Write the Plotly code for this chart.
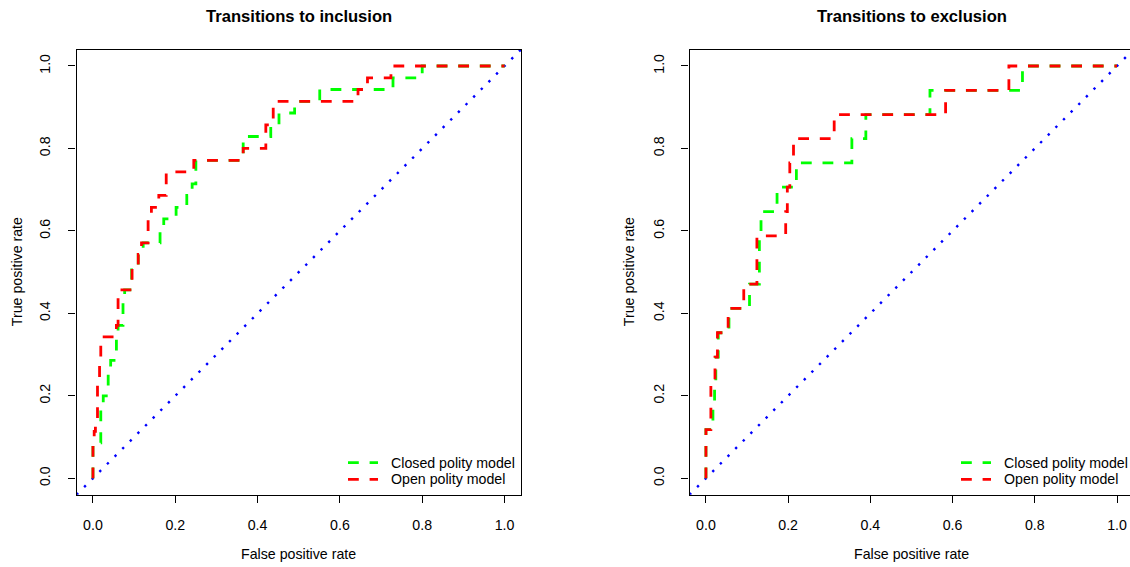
import plotly.graph_objects as go

# ---------------- data (ROC step corners) ----------------
# Transitions to inclusion
inc_closed_fpr = [0, 0, 0.019, 0.025, 0.037, 0.043, 0.057, 0.061, 0.073, 0.077, 0.094, 0.11, 0.122,
                  0.163, 0.172, 0.202, 0.228, 0.241, 0.25, 0.365, 0.432, 0.452, 0.49, 0.551, 0.729, 0.80, 1.0]
inc_closed_tpr = [0, 0.086, 0.171, 0.2, 0.257, 0.286, 0.343, 0.371, 0.429, 0.457, 0.514, 0.543, 0.571,
                  0.6, 0.629, 0.657, 0.686, 0.714, 0.771, 0.829, 0.857, 0.886, 0.914, 0.943, 0.971, 1.0, 1.0]
inc_open_fpr = [0, 0, 0.003, 0.006, 0.011, 0.016, 0.019, 0.057, 0.061, 0.095, 0.11, 0.118, 0.134,
                0.142, 0.16, 0.178, 0.245, 0.365, 0.42, 0.438, 0.644, 0.667, 0.724, 1.0]
inc_open_tpr = [0, 0.086, 0.114, 0.143, 0.229, 0.286, 0.343, 0.371, 0.457, 0.514, 0.543, 0.571, 0.629,
                0.657, 0.686, 0.743, 0.771, 0.8, 0.857, 0.914, 0.943, 0.971, 1.0, 1.0]

# Transitions to exclusion
exc_closed_fpr = [0, 0, 0.017, 0.021, 0.024, 0.03, 0.056, 0.106, 0.13, 0.134, 0.173, 0.22,
                  0.355, 0.389, 0.545, 0.77, 1.0]
exc_closed_tpr = [0, 0.118, 0.176, 0.235, 0.294, 0.353, 0.412, 0.471, 0.588, 0.647, 0.706, 0.765,
                  0.824, 0.882, 0.941, 1.0, 1.0]
exc_open_fpr = [0, 0, 0.012, 0.022, 0.028, 0.054, 0.092, 0.124, 0.194, 0.198, 0.204, 0.213,
                0.312, 0.583, 0.737, 1.0]
exc_open_tpr = [0, 0.118, 0.235, 0.294, 0.353, 0.412, 0.471, 0.588, 0.647, 0.706, 0.765, 0.824,
                0.882, 0.941, 1.0, 1.0]

# chance diagonal (y = x) across the padded plot range
diag = [-0.04, 1.04]

tick_vals = [0.0, 0.2, 0.4, 0.6, 0.8, 1.0]
tick_text = ["0.0", "0.2", "0.4", "0.6", "0.8", "1.0"]

titles = ["Transitions to inclusion", "Transitions to exclusion"]
series_names = ["Closed polity model", "Open polity model"]
x_title = "False positive rate"
y_title = "True positive rate"

# ---------------- styling ----------------
FONT = "Liberation Sans, Arial, Helvetica, sans-serif"
GREEN = "#00FF00"
RED = "#FF0000"
BLUE = "#0000FF"
DASH = "10.8px,10.8px"
W, H = 1130, 567

fig = go.Figure()

panels = [
    ("x", "y", inc_closed_fpr, inc_closed_tpr, inc_open_fpr, inc_open_tpr),
    ("x2", "y2", exc_closed_fpr, exc_closed_tpr, exc_open_fpr, exc_open_tpr),
]
for xa, ya, cf, ct, of, ot in panels:
    fig.add_trace(go.Scatter(x=diag, y=diag, mode="lines", xaxis=xa, yaxis=ya, showlegend=False,
                             line=dict(color=BLUE, width=2.4, dash="2.4px,8.4px"), hoverinfo="skip"))
    fig.add_trace(go.Scatter(x=cf, y=ct, mode="lines", xaxis=xa, yaxis=ya, name=series_names[0],
                             showlegend=False,
                             line=dict(color=GREEN, width=2.8, dash=DASH, shape="hv")))
    fig.add_trace(go.Scatter(x=of, y=ot, mode="lines", xaxis=xa, yaxis=ya, name=series_names[1],
                             showlegend=False,
                             line=dict(color=RED, width=2.8, dash=DASH, shape="hv")))

axis_common = dict(
    tickvals=tick_vals, ticktext=tick_text, ticks="outside", ticklen=7, tickwidth=1.2,
    tickcolor="#000", showline=True, linecolor="#000", linewidth=1.2, showgrid=False,
    zeroline=False, tickfont=dict(family=FONT, size=14.2, color="#000"), fixedrange=True,
)

ydom = [1 - 494.8 / H, 1 - 49.5 / H]
fig.update_layout(
    width=W, height=H, autosize=False,
    margin=dict(l=0, r=0, t=0, b=0),
    paper_bgcolor="white", plot_bgcolor="white",
    font=dict(family=FONT, size=14.2, color="#000"),
    xaxis=dict(domain=[76.5 / W, 521.0 / W], range=[-0.04, 1.04], anchor="y", mirror=True,
               ticklabelstandoff=10, **axis_common),
    yaxis=dict(domain=ydom, range=[-0.04, 1.04], anchor="x", mirror=True, tickangle=-90,
               ticklabelstandoff=13, **axis_common),
    xaxis2=dict(domain=[689.5 / W, 1.0], range=[-0.04, (W - 706.0) / 411.0], anchor="y2", mirror=True,
                ticklabelstandoff=10, **axis_common),
    yaxis2=dict(domain=ydom, range=[-0.04, 1.04], anchor="x2", mirror=False, tickangle=-90,
                ticklabelstandoff=12, **axis_common),
    showlegend=False,
)

annotations = []
shapes = []
for cx, t in zip([(76.5 + 521.0) / 2 / W, (689.5 + 1133.5) / 2 / W], titles):
    annotations.append(dict(text="<b>%s</b>" % t, x=cx, y=1 - 16 / H, xref="paper", yref="paper",
                            showarrow=False, xanchor="center", yanchor="middle",
                            font=dict(family=FONT, size=16.6, color="#000")))
    annotations.append(dict(text=x_title, x=cx, y=1 - 554 / H, xref="paper", yref="paper",
                            showarrow=False, xanchor="center", yanchor="middle",
                            font=dict(family=FONT, size=14.2, color="#000")))
for lx in [17 / W, 629 / W]:
    annotations.append(dict(text=y_title, x=lx, y=(ydom[0] + ydom[1]) / 2, xref="paper", yref="paper",
                            showarrow=False, xanchor="center", yanchor="middle", textangle=-90,
                            font=dict(family=FONT, size=14.2, color="#000")))

# legends (bottom-right of each panel)
for lx in [348.0, 961.0]:
    for name, col, ly in zip(series_names, [GREEN, RED], [462.7, 479.3]):
        shapes.append(dict(type="line", xref="paper", yref="paper",
                           x0=lx / W, x1=(lx + 30) / W, y0=1 - ly / H, y1=1 - ly / H,
                           line=dict(color=col, width=2.8, dash=DASH)))
        annotations.append(dict(text=name, x=(lx + 41) / W, y=1 - ly / H, xref="paper", yref="paper",
                                showarrow=False, xanchor="left", yanchor="middle",
                                font=dict(family=FONT, size=14.2, color="#000")))

fig.update_layout(annotations=annotations, shapes=shapes)

fig.write_html("out.html")
